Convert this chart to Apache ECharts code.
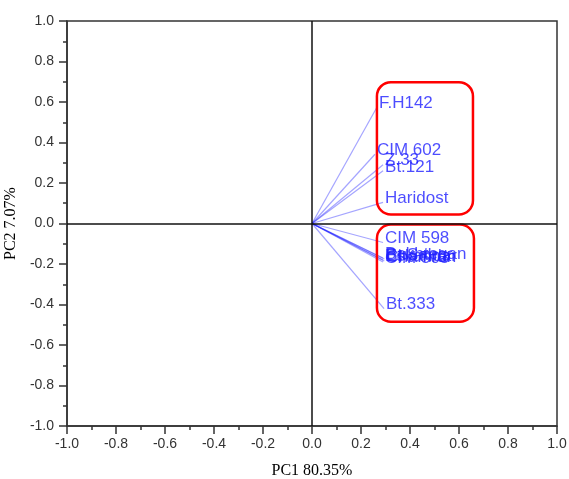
<!DOCTYPE html>
<html>
<head>
<meta charset="utf-8">
<script src="https://cdn.jsdelivr.net/npm/echarts@6/dist/echarts.min.js"></script>
<style>
  html, body, #main { width: 100%; height: 100%; margin: 0; background: #fff; }
</style>
</head>
<body>
<div id="main"></div>
<script>
var names = ['F.H142', 'CIM 602', 'Z.33', 'Bt.121', 'Haridost', 'CIM 598',
             'Bakhtegan', 'Bt.Sahar', 'Eskandar', 'Chamran', 'CIM 503', 'Bt.333'];
var pc1 = [0.265, 0.257, 0.29, 0.29, 0.29, 0.29, 0.29, 0.295, 0.29, 0.295, 0.29, 0.294];
var pc2 = [0.574, 0.342, 0.29, 0.26, 0.104, -0.094, -0.17, -0.175, -0.18, -0.185, -0.19, -0.42];

// highlight boxes: [xmin, ymax, xmax, ymin]
var boxes = [[0.265, 0.698, 0.657, 0.045], [0.265, -0.005, 0.661, -0.485]];

var blue = '#1f1fff';
var axisColor = '#333';

var vectors = names.map(function (n, i) {
  return { coords: [[0, 0], [pc1[i], pc2[i]]] };
});
var points = names.map(function (n, i) {
  return { name: n, value: [pc1[i], pc2[i]] };
});

var chart = echarts.init(document.getElementById('main'));

var axisCommon = {
  type: 'value',
  min: -1, max: 1, interval: 0.2,
  nameLocation: 'middle',
  nameTextStyle: { fontFamily: 'Liberation Serif', fontSize: 16, color: '#000' },
  axisLine: { onZero: false, lineStyle: { color: axisColor, width: 1.5 } },
  axisTick: { inside: false, length: 8, lineStyle: { color: axisColor, width: 1.5 } },
  minorTick: { show: true, splitNumber: 2, length: 4, lineStyle: { color: axisColor, width: 1.5 } },
  splitLine: { show: false },
  axisLabel: {
    fontFamily: 'Liberation Sans', fontSize: 14, color: axisColor,
    formatter: function (v) { return v.toFixed(1); }
  }
};

chart.setOption({
  animation: false,
  grid: {
    left: 67, right: 12, top: 21, bottom: 53,
    outerBoundsMode: 'none',
    show: true, borderColor: axisColor, borderWidth: 1.5
  },
  xAxis: Object.assign({}, axisCommon, {
    name: 'PC1 80.35%', nameGap: 37,
    axisLabel: Object.assign({}, axisCommon.axisLabel, { margin: 11 })
  }),
  yAxis: Object.assign({}, axisCommon, {
    name: 'PC2 7.07%', nameGap: 45,
    axisLabel: Object.assign({}, axisCommon.axisLabel, { margin: 13 })
  }),
  series: [
    {
      type: 'lines',
      coordinateSystem: 'cartesian2d',
      data: vectors,
      symbol: 'none',
      lineStyle: { color: blue, width: 1.2, opacity: 0.4 },
      silent: true,
      markLine: {
        silent: true,
        symbol: 'none',
        label: { show: false },
        lineStyle: { color: '#111', width: 1.5, type: 'solid' },
        data: [{ xAxis: 0 }, { yAxis: 0 }]
      }
    },
    {
      type: 'scatter',
      data: points,
      symbolSize: 0,
      label: {
        show: true,
        position: 'right',
        distance: 2,
        offset: [0, -4],
        formatter: '{b}',
        fontFamily: 'Liberation Sans',
        fontSize: 17,
        color: blue
      }
    },
    {
      type: 'custom',
      data: boxes,
      silent: true,
      renderItem: function (params, api) {
        var p0 = api.coord([api.value(0), api.value(1)]);
        var p1 = api.coord([api.value(2), api.value(3)]);
        return {
          type: 'rect',
          shape: { x: p0[0], y: p0[1], width: p1[0] - p0[0], height: p1[1] - p0[1], r: 14 },
          style: { fill: 'none', stroke: '#ff0000', lineWidth: 2.5 }
        };
      }
    }
  ]
});
</script>
</body>
</html>
